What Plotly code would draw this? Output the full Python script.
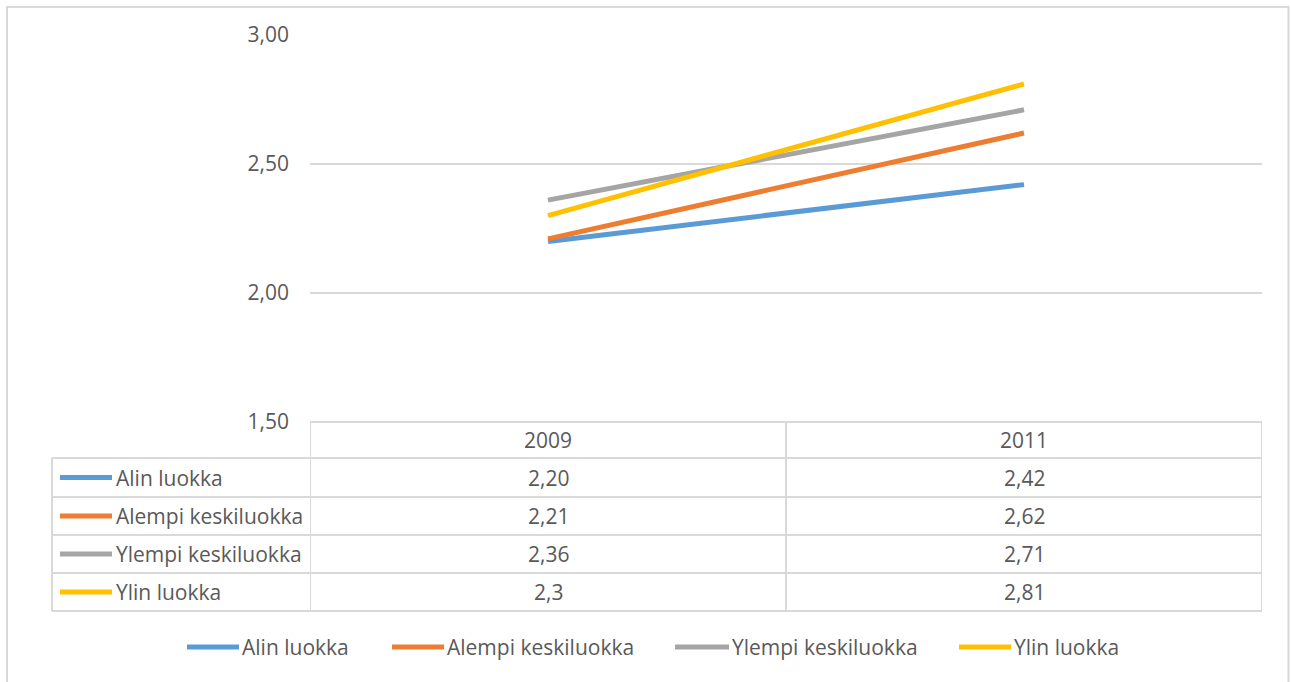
import plotly.graph_objects as go

# ---- data ----
years = ["2009", "2011"]
series_names = ["Alin luokka", "Alempi keskiluokka", "Ylempi keskiluokka", "Ylin luokka"]
alin = [2.20, 2.42]
alempi = [2.21, 2.62]
ylempi = [2.36, 2.71]
ylin = [2.30, 2.81]
table_text = [["2,20", "2,42"], ["2,21", "2,62"], ["2,36", "2,71"], ["2,3", "2,81"]]
y_ticks = [1.5, 2.0, 2.5, 3.0]

colors = ["#5B9BD5", "#ED7D31", "#A5A5A5", "#FFC000"]
values = [alin, alempi, ylempi, ylin]

W, H = 1291, 682
L, R, T, B = 310, 1262, 35, 422
FONT = "Open Sans"
FS = 21
TXT = "#595959"
GRID = "#D9D9D9"


def px(x):
    return (x - L) / (R - L)


def py(y):
    return (B - y) / (B - T)


fig = go.Figure()
for name, vals, col in zip(series_names, values, colors):
    fig.add_trace(go.Scatter(x=years, y=vals, mode="lines", name=name,
                             line=dict(color=col, width=5), showlegend=False,
                             hoverinfo="x+y+name"))

shapes = []
annotations = []

# outer chart border
shapes.append(dict(type="rect", xref="paper", yref="paper",
                   x0=px(7), x1=px(1288.5), y0=py(700), y1=py(7),
                   line=dict(color=GRID, width=2), fillcolor="rgba(0,0,0,0)", layer="below"))

# data table
row_edges = [422, 458, 497, 535, 573, 611]
line_style = dict(color=GRID, width=2)
shapes.append(dict(type="line", xref="x", yref="paper", x0=-0.5, x1=1.5,
                   y0=py(row_edges[0]), y1=py(row_edges[0]), line=line_style))
for ye in row_edges[1:]:
    shapes.append(dict(type="line", xref="paper", yref="paper", x0=px(52), x1=1,
                       y0=py(ye), y1=py(ye), line=line_style))
for xb in [-0.5, 0.5, 1.5]:
    shapes.append(dict(type="line", xref="x", yref="paper", x0=xb, x1=xb,
                       y0=py(row_edges[0]), y1=py(row_edges[-1]), line=line_style))
shapes.append(dict(type="line", xref="paper", yref="paper", x0=px(52), x1=px(52),
                   y0=py(row_edges[1]), y1=py(row_edges[-1]), line=line_style))

# header texts (category index positions on the x axis)
for j, yr in enumerate(years):
    annotations.append(dict(x=j, y=py((row_edges[0] + row_edges[1]) / 2), xref="x", yref="paper",
                            text=yr, showarrow=False, xanchor="center", yanchor="middle",
                            font=dict(family=FONT, size=FS, color=TXT)))
# rows
for i, (name, col) in enumerate(zip(series_names, colors)):
    yc = (row_edges[i + 1] + row_edges[i + 2]) / 2
    shapes.append(dict(type="line", xref="paper", yref="paper", x0=px(60), x1=px(112),
                       y0=py(yc), y1=py(yc), line=dict(color=col, width=5)))
    annotations.append(dict(x=px(114), y=py(yc), xref="paper", yref="paper", text=name,
                            showarrow=False, xanchor="left", yanchor="middle",
                            font=dict(family=FONT, size=FS, color=TXT)))
    for j in range(len(years)):
        annotations.append(dict(x=j, y=py(yc), xref="x", yref="paper", text=table_text[i][j],
                                showarrow=False, xanchor="center", yanchor="middle",
                                font=dict(family=FONT, size=FS, color=TXT)))

# bottom legend
leg_keys = [(187, 239), (392, 444), (675, 729), (959, 1011)]
leg_y = 647
for (k0, k1), name, col in zip(leg_keys, series_names, colors):
    shapes.append(dict(type="line", xref="paper", yref="paper", x0=px(k0), x1=px(k1),
                       y0=py(leg_y), y1=py(leg_y), line=dict(color=col, width=5)))
    annotations.append(dict(x=px(k1 + 1), y=py(leg_y), xref="paper", yref="paper", text=name,
                            showarrow=False, xanchor="left", yanchor="middle",
                            font=dict(family=FONT, size=FS, color=TXT)))

fig.update_layout(
    width=W, height=H, autosize=False,
    margin=dict(l=L, r=W - R, t=T, b=H - B, pad=0),
    paper_bgcolor="white", plot_bgcolor="white",
    separators=", ",
    font=dict(family=FONT, size=FS, color=TXT),
    xaxis=dict(type="category", range=[-0.5, 1.5], showticklabels=False, showgrid=False,
               zeroline=False, showline=False, ticks=""),
    yaxis=dict(range=[1.5, 3.0], tickvals=y_ticks, tickformat=".2f", showgrid=True,
               gridcolor=GRID, gridwidth=2, zeroline=False, showline=False, ticks="",
               ticklabelstandoff=20, tickfont=dict(family=FONT, size=FS, color=TXT)),
    shapes=shapes, annotations=annotations,
)

fig.write_html("out.html", include_plotlyjs=True, config={"displayModeBar": False},
               post_script="document.body.style.margin='0';")
